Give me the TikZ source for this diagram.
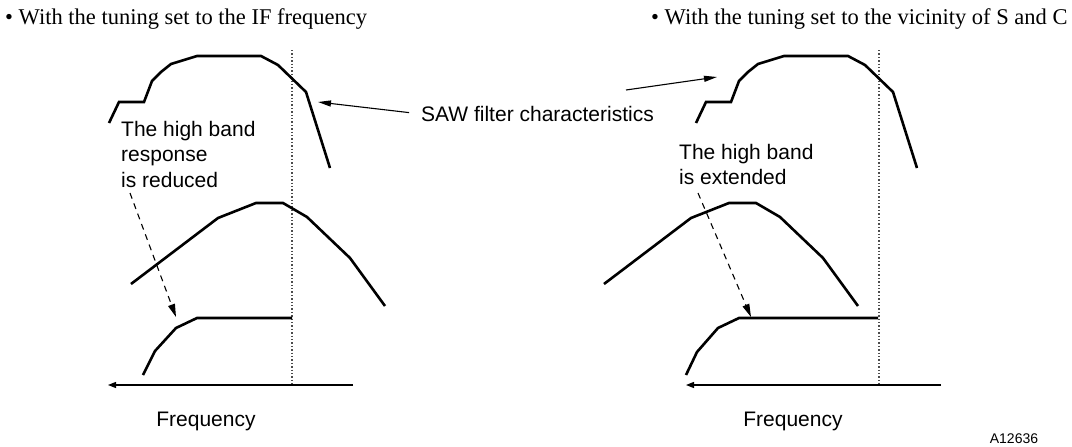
\documentclass[tikz,border=0pt]{standalone}
\usepackage{fontspec}
\setmainfont{Liberation Serif}
\setsansfont{Liberation Sans}
\usetikzlibrary{arrows.meta, positioning}

\begin{document}
\begin{tikzpicture}[x=1pt, y=-1pt, >=Stealth,
    resp/.style={line width=2.6pt, line join=miter},
    marker/.style={dotted, line width=1.4pt, black!70},
    axis/.style={line width=1.3pt, -{Triangle[length=8pt, width=6pt]}},
    pointer/.style={line width=1.1pt, -{Stealth[length=13pt, width=6pt, inset=0pt]}},
    hint/.style={line width=1.1pt, dash pattern=on 6pt off 5pt,
                 -{Stealth[length=13pt, width=7pt, inset=0pt]}},
    lbl/.style={font=\sffamily\fontsize{21}{25.5}\selectfont, inner sep=0pt, align=left},
    head/.style={font=\fontsize{22.5}{26}\selectfont, inner sep=0pt, anchor=base west}]
  \useasboundingbox (0,0) rectangle (1072,447);

  % Headings
  \node[head] (headL) at (5,24) {\textbullet\ With the tuning set to the IF frequency};
  \node[head] (headR) at (651,24) {\textbullet\ With the tuning set to the vicinity of S and C};

  % Cut-off markers
  \draw[marker] (292,50) -- (292,385);
  \draw[marker] (879,50) -- (879,385);

  % SAW filter characteristics (same on both sides)
  \foreach \dx in {0,587}
    \draw[resp, shift={(\dx,0)}] (109,123) -- (119,102) -- (144,102) -- (152,81)
      -- (161,72) -- (171,64) -- (197,56) -- (261,56) -- (278,65) -- (306,92) -- (330,168);

  % Tuned response
  \foreach \dx in {0,473}
    \draw[resp, shift={(\dx,0)}] (131,284) -- (218,218) -- (256,203) -- (283,203)
      -- (307,217) -- (350,258) -- (385,306);

  % Resulting response
  \draw[resp] (143,375) -- (155,351) -- (176,328) -- (197,318) -- (292,318);
  \draw[resp] (686,375) -- (697,352) -- (718,328) -- (739,318) -- (878,318);

  % Frequency axes
  \coordinate (axLa) at (353,385);
  \coordinate (axLb) at (108,385);
  \coordinate (axRa) at (941,385);
  \coordinate (axRb) at (686,385);
  \draw[axis] (axLa) -- (axLb);
  \draw[axis] (axRa) -- (axRb);
  \node[lbl] (freqL) at (206,421) {Frequency};
  \node[lbl] (freqR) at (793,421) {Frequency};

  % Labels
  \node[lbl, anchor=west] (saw) at (421,114) {SAW filter characteristics};
  \coordinate (sawL) at (318,102);
  \coordinate (sawtail) at (626,90);
  \coordinate (sawR) at (717,77);
  \draw[pointer, shorten <=12pt] (saw.west) -- (sawL);
  \draw[pointer] (sawtail) -- (sawR);

  \node[lbl, anchor=north west] (reduced) at (121,121) {The high band\\response\\is reduced};
  \node[lbl, anchor=north west] (extended) at (679,144) {The high band\\is extended};
  \coordinate (redtail) at (130,193);
  \coordinate (redtip) at (176,317);
  \coordinate (exttail) at (698,193);
  \coordinate (exttip) at (751,317);
  \draw[hint] (redtail) -- (redtip);
  \draw[hint] (exttail) -- (exttip);

  \node[lbl, font=\sffamily\fontsize{14}{16}\selectfont] (code) at (1014,439) {A12636};
\end{tikzpicture}
\end{document}
